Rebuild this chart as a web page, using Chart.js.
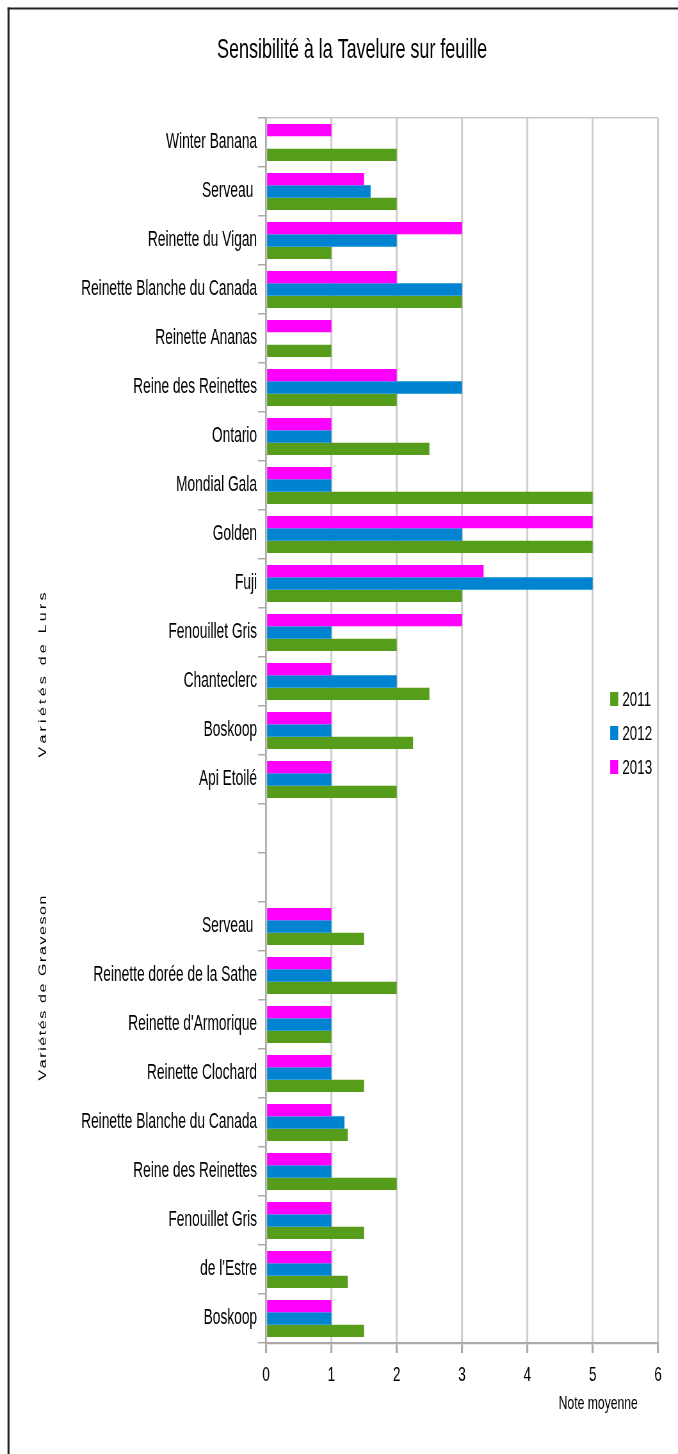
<!DOCTYPE html>
<html>
<head>
<meta charset="utf-8">
<title>Sensibilité à la Tavelure sur feuille</title>
<script src="https://cdn.jsdelivr.net/npm/chart.js@4.4.1/dist/chart.umd.min.js"></script>
<style>
  html, body { margin: 0; padding: 0; background: #fff; }
  canvas { display: block; }
</style>
</head>
<body>
<canvas id="tavChart" width="678" height="1454" style="width:678px;height:1454px"></canvas>
<script>
// DATA
const chartTitle = "Sensibilité à la Tavelure sur feuille";
const xTitle = "Note moyenne";
const groupTitles = ["Variétés de Lurs", "Variétés de Graveson"];
const varieties = [
    "Winter Banana", "Serveau ", "Reinette du Vigan", "Reinette Blanche du Canada",
    "Reinette Ananas", "Reine des Reinettes", "Ontario", "Mondial Gala", "Golden",
    "Fuji", "Fenouillet Gris", "Chanteclerc", "Boskoop", "Api Etoilé",
    "", "",
    "Serveau ", "Reinette dorée de la Sathe", "Reinette d'Armorique", "Reinette Clochard",
    "Reinette Blanche du Canada", "Reine des Reinettes", "Fenouillet Gris", "de l'Estre", "Boskoop"
];
const years = ["2011", "2012", "2013"];
const notes2011 = [2, 2, 1, 3, 1, 2, 2.5, 5, 5, 3, 2, 2.5, 2.25, 2, null, null, 1.5, 2, 1, 1.5, 1.25, 2, 1.5, 1.25, 1.5];
const notes2012 = [null, 1.6, 2, 3, null, 3, 1, 1, 3, 5, 1, 2, 1, 1, null, null, 1, 1, 1, 1, 1.2, 1, 1, 1, 1];
const notes2013 = [1, 1.5, 3, 2, 1, 2, 1, 1, 5, 3.33, 3, 1, 1, 1, null, null, 1, 1, 1, 1, 1, 1, 1, 1, 1];
const xTicks = [0, 1, 2, 3, 4, 5, 6];

const colors = { "2011": "#579d1c", "2012": "#0084d1", "2013": "#ff00ff" };

// the original is squeezed sideways, so draw wider and let css narrow it
const K = 0.64;
const sx = x => x / K;
const canvas = document.getElementById("tavChart");
canvas.width = Math.round(sx(678));

const fontFam = '"Liberation Sans", Arial, sans-serif';
Chart.defaults.font.family = fontFam;
Chart.defaults.color = "#000";

// extra drawing: frame, title, legend, group titles
const decor = {
    id: "decor",
    beforeDraw(chart) {
        const c = chart.ctx;
        c.save();
        c.fillStyle = "#fff";
        c.fillRect(0, 0, chart.width, chart.height);
        c.restore();
    },
    afterDraw(chart) {
        const c = chart.ctx;
        c.save();
        // frame (top and left only, the rest is cut off)
        c.strokeStyle = "#222";
        c.lineWidth = 2;
        c.beginPath();
        c.moveTo(sx(7.5), 8.5); c.lineTo(chart.width, 8.5);
        c.stroke();
        c.lineWidth = sx(2);
        c.beginPath();
        c.moveTo(sx(8.5), 7.5); c.lineTo(sx(8.5), chart.height);
        c.stroke();

        // title
        c.fillStyle = "#000";
        c.textAlign = "center";
        c.textBaseline = "middle";
        c.font = "28px " + fontFam;
        c.fillText(chartTitle, sx(352), 50);

        // axis title
        c.font = "19px " + fontFam;
        c.fillText(xTitle, sx(598), 1404);

        // legend (2011 on top)
        c.textAlign = "left";
        c.font = "21px " + fontFam;
        years.forEach(function(yr, i) {
            let yc = 699 + i * 34;
            c.fillStyle = colors[yr];
            c.fillRect(sx(610), yc - 7, sx(8), 14);
            c.fillStyle = "#000";
            c.fillText(yr, sx(622), yc + 1);
        });

        // group titles, rotated and spaced out
        const spots = [{ y: 675, len: 165 }, { y: 988, len: 185 }];
        c.font = "16px " + fontFam;
        groupTitles.forEach(function(txt, i) {
            let chars = txt.split("");
            let widths = chars.map(ch => c.measureText(ch).width);
            let total = widths.reduce((a, b) => a + b, 0);
            let gap = (spots[i].len - total) / (chars.length - 1);
            c.save();
            c.translate(sx(43), spots[i].y);
            c.rotate(-Math.PI / 2);
            let x = -spots[i].len / 2;
            chars.forEach(function(ch, k) {
                c.fillText(ch, x, 0);
                x += widths[k] + gap;
            });
            c.restore();
        });
        c.restore();
    }
};

// CHART
const Data = {
    labels: varieties,
    datasets: [
        { label: "2013", data: notes2013, backgroundColor: colors["2013"] },
        { label: "2012", data: notes2012, backgroundColor: colors["2012"] },
        { label: "2011", data: notes2011, backgroundColor: colors["2011"] }
    ]
};

const tavConfig = {
    type: "bar",
    data: Data,
    options: {
        indexAxis: "y",
        responsive: false,
        animation: false,
        devicePixelRatio: 1,
        categoryPercentage: 0.76,
        barPercentage: 1,
        layout: { padding: { top: 118, right: sx(20), left: 0, bottom: 0 } },
        plugins: {
            legend: { display: false },
            title: { display: false },
            tooltip: { enabled: false }
        },
        scales: {
            x: {
                min: 0,
                max: 6,
                afterBuildTicks: function(s) { s.ticks = xTicks.map(v => ({ value: v })); },
                ticks: { font: { size: 21 }, color: "#000", padding: 10 },
                grid: { color: "#cfcfcf", lineWidth: sx(2), tickLength: 10, tickColor: "#aaa" },
                border: { color: "#aaa", width: sx(1.5) },
                afterFit: function(s) { s.height = 111; }
            },
            y: {
                ticks: { autoSkip: false, font: { size: 21.5 }, color: "#000", padding: sx(1) },
                grid: {
                    offset: true,
                    tickLength: sx(8),
                    tickColor: "#aaa",
                    lineWidth: 1.5,
                    color: function(ctx) { return ctx.index === 0 ? "#c8c8c8" : "rgba(0,0,0,0)"; }
                },
                border: { color: "#aaa", width: sx(1.5) },
                afterFit: function(s) { s.width = sx(266); }
            }
        }
    },
    plugins: [decor]
};

const tavChart = new Chart(canvas, tavConfig);
</script>
</body>
</html>
